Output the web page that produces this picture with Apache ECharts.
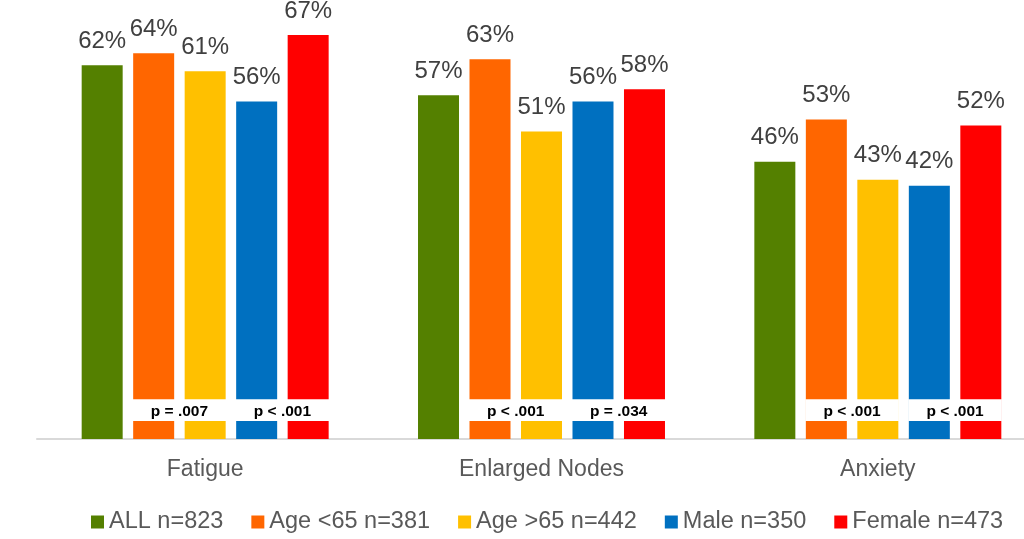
<!DOCTYPE html>
<html>
<head>
<meta charset="utf-8">
<style>
  html, body { margin: 0; padding: 0; background: #ffffff; overflow: hidden; width: 1024px; height: 539px; }
  #chart { width: 1046px; height: 539px; }
</style>
<script src="https://cdn.jsdelivr.net/npm/echarts@6/dist/echarts.min.js"></script>
</head>
<body>
<div id="chart"></div>
<script>
const categories = ['Fatigue', 'Enlarged Nodes', 'Anxiety'];
const seriesNames = ['ALL n=823', 'Age <65 n=381', 'Age >65 n=442', 'Male n=350', 'Female n=473'];
const allValues = [62, 57, 46];
const ageUnder65 = [64, 63, 53];
const ageOver65 = [61, 51, 43];
const maleValues = [56, 56, 42];
const femaleValues = [67, 58, 52];
const pAge = ['p = .007', 'p < .001', 'p < .001'];
const pSex = ['p < .001', 'p = .034', 'p < .001'];

const colors = ['#548000', '#FF6600', '#FFC000', '#0070C0', '#FF0000'];
const seriesValues = [allValues, ageUnder65, ageOver65, maleValues, femaleValues];

const BAR_W = 41;
const STEP = 51.5;
const BAND_LOW = 3.0, BAND_HIGH = 6.6;

const chart = echarts.init(document.getElementById('chart'), null, { renderer: 'canvas' });

const barSeries = seriesNames.map((name, i) => ({
  name: name,
  type: 'bar',
  data: seriesValues[i],
  barWidth: BAR_W,
  barGap: '25.6%',
  itemStyle: { color: colors[i] },
  z: 2,
  label: {
    show: true,
    position: 'top',
    distance: 12,
    formatter: '{c}%',
    color: '#404040',
    fontSize: 24,
    fontFamily: 'Liberation Sans, Arial, sans-serif'
  }
}));

function pRender(offsetLeftBars, labels) {
  return function (params, api) {
    const idx = api.value(0);
    const c = api.coord([idx, 0])[0];
    const yTop = api.coord([idx, BAND_HIGH])[1];
    const yBot = api.coord([idx, BAND_LOW])[1];
    const x0 = c + offsetLeftBars * STEP - BAR_W / 2 - 0.5;
    const x1 = c + (offsetLeftBars + 1) * STEP + BAR_W / 2 + 0.5;
    return {
      type: 'group',
      children: [
        { type: 'rect', shape: { x: x0, y: yTop, width: x1 - x0, height: yBot - yTop },
          style: { fill: '#ffffff' } },
        { type: 'text', style: {
            x: (x0 + x1) / 2, y: (yTop + yBot) / 2 + 2,
            text: labels[idx], align: 'center', verticalAlign: 'middle',
            fill: '#000000', font: 'bold 15.5px Liberation Sans, Arial, sans-serif' } }
      ]
    };
  };
}

const option = {
  animation: false,
  backgroundColor: '#ffffff',
  grid: { left: 37, top: 17, right: 0, height: 422, containLabel: false },
  legend: {
    data: seriesNames,
    top: 505,
    left: 86,
    itemWidth: 13,
    itemHeight: 13,
    itemGap: 28,
    icon: 'rect',
    textStyle: { color: '#595959', fontSize: 23.5, fontFamily: 'Liberation Sans, Arial, sans-serif' }
  },
  xAxis: {
    type: 'category',
    data: categories,
    axisLine: { lineStyle: { color: '#D9D9D9', width: 2 } },
    axisTick: { show: false },
    axisLabel: { color: '#595959', fontSize: 23, margin: 19, fontFamily: 'Liberation Sans, Arial, sans-serif' }
  },
  yAxis: {
    type: 'value', min: 0, max: 70, show: false,
    splitLine: { show: false }
  },
  series: barSeries.concat([
    { type: 'custom', name: 'pAge', z: 5, silent: true,
      data: categories.map((c, i) => [i, 0]), renderItem: pRender(-1, pAge) },
    { type: 'custom', name: 'pSex', z: 5, silent: true,
      data: categories.map((c, i) => [i, 0]), renderItem: pRender(1, pSex) }
  ])
};
chart.setOption(option);
</script>
</body>
</html>
